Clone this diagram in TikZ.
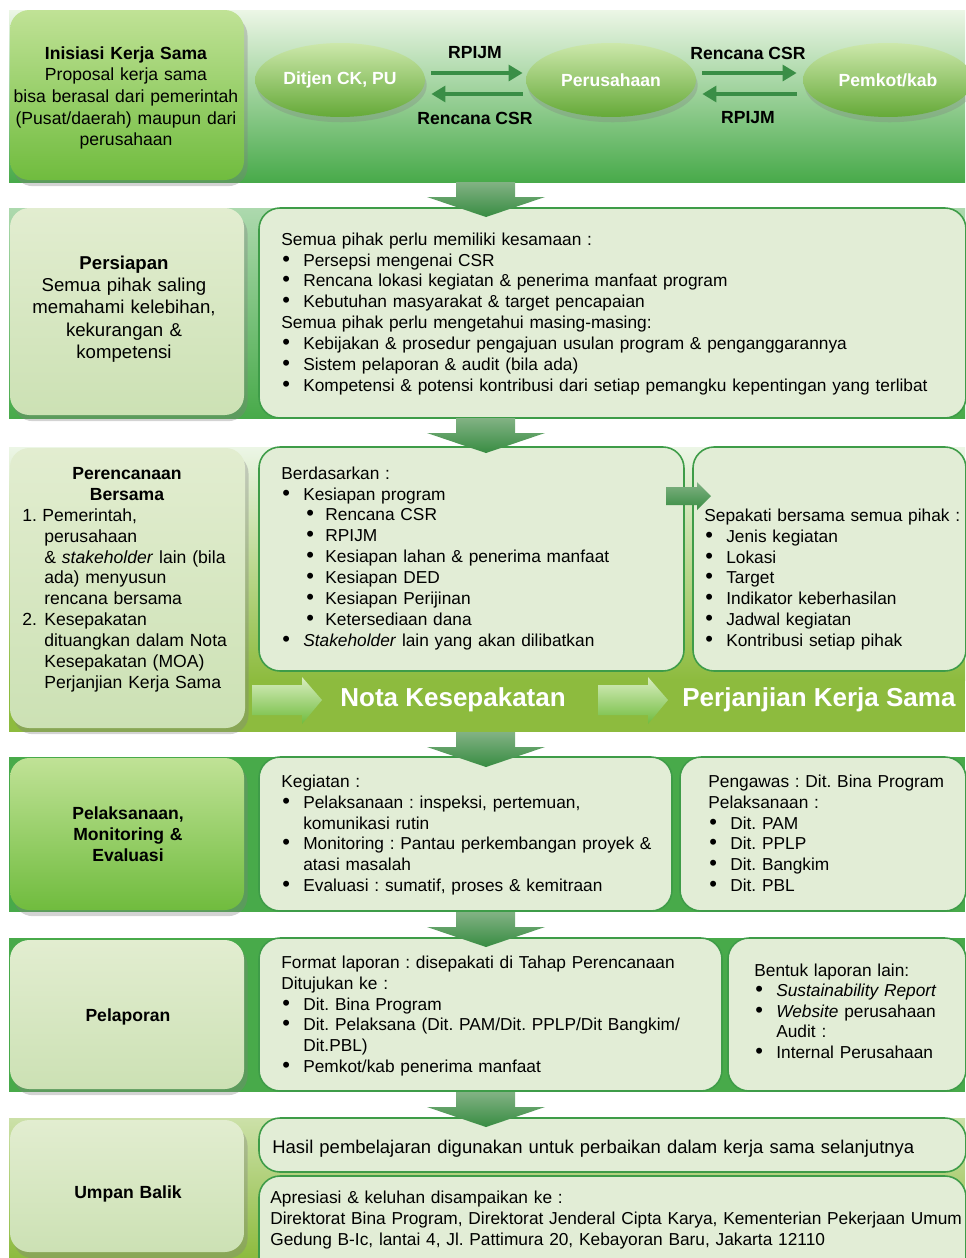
\documentclass[tikz,border=0pt]{standalone}
\usepackage{fontspec}
\setmainfont{Liberation Sans}
\usetikzlibrary{positioning,arrows.meta,shapes.geometric,shadows}
\frenchspacing

\definecolor{bandtop}{RGB}{236,246,230}
\definecolor{bandgreen}{RGB}{72,170,74}
\definecolor{bandolive}{RGB}{141,187,62}
\definecolor{boxfill}{RGB}{226,237,214}
\definecolor{boxline}{RGB}{62,156,72}
\definecolor{sidetop}{RGB}{226,237,208}
\definecolor{sidebot}{RGB}{204,225,180}
\definecolor{brighttop}{RGB}{192,226,150}
\definecolor{brightbot}{RGB}{112,188,62}
\definecolor{pushlight}{RGB}{130,178,132}
\definecolor{pushdark}{RGB}{56,140,66}
\definecolor{flowgreen}{RGB}{58,142,70}

\newcommand{\dotmark}{{\fontsize{12.5}{12}\selectfont\textbullet}}
\newcommand{\itm}{\makebox[12.5pt][l]{\hspace{0.6pt}\dotmark}}
\newcommand{\itmsub}{\hspace*{13.7pt}\makebox[11.4pt][l]{\hspace{0.6pt}\dotmark}}
\newcommand{\itmcont}{\hspace*{12.5pt}}

\tikzset{
  sidebox/.style={rounded corners=11pt, top color=sidetop, bottom color=sidebot,
    drop shadow={shadow xshift=2pt, shadow yshift=-3.5pt, opacity=0.35}},
  brightbox/.style={sidebox, top color=brighttop, bottom color=brightbot},
  infobox/.style={rounded corners=12pt, fill=boxfill, draw=boxline, line width=0.9pt},
  sidetext/.style={anchor=base, inner sep=0pt, align=center, text width=4.5cm},
  body/.style={anchor=base west, inner sep=0pt, align=left},
  bubble/.style={ellipse, minimum width=3.4cm, minimum height=1.48cm, inner sep=0pt,
    top color=brighttop!80!white, bottom color=brightbot!90!black, text=white,
    font=\bfseries, drop shadow={shadow xshift=1pt, shadow yshift=-3pt, opacity=0.3}},
  flow/.style={-{Triangle[length=8pt,width=9pt]}, line width=2.3pt, draw=flowgreen},
  lbl/.style={inner sep=0pt, font=\bfseries},
  banner/.style={anchor=west, inner sep=0pt, text=white,
    font=\fontsize{14.8}{18}\selectfont\bfseries},
}

\begin{document}
\begin{tikzpicture}[x=0.02cm, y=-0.02cm, font=\fontsize{9.85}{11.95}\selectfont]
  \useasboundingbox (0,0) rectangle (965,1258);

  % Inisiasi
  \shade[top color=bandtop, bottom color=bandgreen] (9,10) rectangle (965,182);
  \path[brightbox] (10,10) rectangle (244,180);
  \node[sidetext, font=\fontsize{10}{12.35}\selectfont] (ini) at (126,59)
    {\textbf{Inisiasi Kerja Sama}\\Proposal kerja sama\\bisa berasal dari pemerintah\\(Pusat/daerah) maupun dari\\perusahaan};
  \node[bubble] (ditjen) at (340,80) {Ditjen CK, PU};
  \node[bubble] (perus) at (611,80) {Perusahaan};
  \node[bubble] (pemkot) at (888,80) {Pemkot/kab};
  \draw[flow] ([xshift=0.12cm,yshift=0.14cm]ditjen.east) -- ([xshift=-0.06cm,yshift=0.14cm]perus.west);
  \draw[flow] ([xshift=-0.06cm,yshift=-0.28cm]perus.west) -- ([xshift=0.12cm,yshift=-0.28cm]ditjen.east);
  \draw[flow] ([xshift=0.12cm,yshift=0.14cm]perus.east) -- ([xshift=-0.12cm,yshift=0.14cm]pemkot.west);
  \draw[flow] ([xshift=-0.12cm,yshift=-0.28cm]pemkot.west) -- ([xshift=0.12cm,yshift=-0.28cm]perus.east);
  \node[lbl] (up1) at (475,53) {RPIJM};
  \node[lbl] (dn1) at (475,118) {Rencana CSR};
  \node[lbl] (up2) at (748,53) {Rencana CSR};
  \node[lbl] (dn2) at (748,118) {RPIJM};

  % Persiapan
  \shade[top color=bandgreen!45!white, bottom color=bandgreen] (9,208) rectangle (965,418);
  \path[sidebox] (10,208) rectangle (244,415);
  \node[sidetext, font=\fontsize{10.6}{12.8}\selectfont] (per) at (124,269)
    {\textbf{Persiapan}\\Semua pihak saling\\memahami kelebihan,\\kekurangan \&\\kompetensi};
  \draw[infobox] (259,208) rectangle (966,418);
  \node[body, text width=13.6cm] (perisi) at (281,245)
    {Semua pihak perlu memiliki kesamaan :\\
     \itm Persepsi mengenai CSR\\
     \itm Rencana lokasi kegiatan \& penerima manfaat program\\
     \itm Kebutuhan masyarakat \& target pencapaian\\
     Semua pihak perlu mengetahui masing-masing:\\
     \itm Kebijakan \& prosedur pengajuan usulan program \& penganggarannya\\
     \itm Sistem pelaporan \& audit (bila ada)\\
     \itm Kompetensi \& potensi kontribusi dari setiap pemangku kepentingan yang terlibat};

  % Perencanaan Bersama
  \shade[top color=bandtop, bottom color=bandolive] (9,447) rectangle (965,680);
  \fill[bandolive] (9,680) rectangle (965,732);
  \path[sidebox] (10,448) rectangle (245,728);
  \node[sidetext, font=\fontsize{10}{11.95}\selectfont] (ren) at (127,479) {\textbf{Perencanaan}\\\textbf{Bersama}};
  \node[body, text width=4.4cm, font=\fontsize{10}{11.95}\selectfont] (renisi) at (22,521)
    {\makebox[11.4pt][l]{1.}Pemerintah,\\
     \itmcont perusahaan\\
     \itmcont \& \textit{stakeholder} lain (bila\\
     \itmcont ada) menyusun\\
     \itmcont rencana bersama\\
     \makebox[12.5pt][l]{2.}Kesepakatan\\
     \itmcont dituangkan dalam Nota\\
     \itmcont Kesepakatan (MOA)\\
     \itmcont Perjanjian Kerja Sama};
  \draw[infobox] (259,447) rectangle (684,671);
  \draw[infobox] (693,447) rectangle (966,671);
  \node[body, text width=8cm] (berd) at (281,479)
    {Berdasarkan :\\
     \itm Kesiapan program\\
     \itmsub Rencana CSR\\
     \itmsub RPIJM\\
     \itmsub Kesiapan lahan \& penerima manfaat\\
     \itmsub Kesiapan DED\\
     \itmsub Kesiapan Perijinan\\
     \itmsub Ketersediaan dana\\
     \itm \textit{Stakeholder} lain yang akan dilibatkan};
  \node[body, text width=5.5cm] (sepakat) at (704,521)
    {Sepakati bersama semua pihak :\\
     \itm Jenis kegiatan\\
     \itm Lokasi\\
     \itm Target\\
     \itm Indikator keberhasilan\\
     \itm Jadwal kegiatan\\
     \itm Kontribusi setiap pihak};
  \shade[top color=pushlight, bottom color=pushdark]
    (666,487) -- (697,487) -- (697,482) -- (711,496) -- (697,510) -- (697,505) -- (666,505) -- cycle;
  \foreach \xx in {252,598}
    \shade[top color=brighttop!60!white, bottom color=brightbot]
      (\xx,685) -- (\xx+50,685) -- (\xx+50,677) -- (\xx+70,700) -- (\xx+50,724) -- (\xx+50,715) -- (\xx,715) -- cycle;
  \node[banner] (nota) at (340,700) {Nota Kesepakatan};
  \node[banner] (pks) at (682,700) {Perjanjian Kerja Sama};

  % Pelaksanaan
  \fill[bandgreen] (9,757) rectangle (965,912);
  \path[brightbox] (10,758) rectangle (244,910);
  \node[sidetext, font=\fontsize{10}{11.95}\selectfont] (pel) at (128,819) {\textbf{Pelaksanaan,}\\\textbf{Monitoring \&}\\\textbf{Evaluasi}};
  \draw[infobox] (259,757) rectangle (672,911);
  \draw[infobox] (680,757) rectangle (966,911);
  \node[body, text width=7.8cm] (keg) at (281,787)
    {Kegiatan :\\
     \itm Pelaksanaan : inspeksi, pertemuan,\\
     \itmcont komunikasi rutin\\
     \itm Monitoring : Pantau perkembangan proyek \&\\
     \itmcont atasi masalah\\
     \itm Evaluasi : sumatif, proses \& kemitraan};
  \node[body, text width=5.4cm] (awas) at (708,787)
    {Pengawas : Dit. Bina Program\\
     Pelaksanaan :\\
     \itm Dit. PAM\\
     \itm Dit. PPLP\\
     \itm Dit. Bangkim\\
     \itm Dit. PBL};

  % Pelaporan
  \fill[bandgreen] (9,938) rectangle (965,1092);
  \path[sidebox] (10,940) rectangle (244,1089);
  \node[sidetext, font=\fontsize{10}{11.95}\selectfont] (lap) at (128,1021) {\textbf{Pelaporan}};
  \draw[infobox] (259,938) rectangle (722,1091);
  \draw[infobox] (728,938) rectangle (966,1091);
  \node[body, text width=8.8cm] (format) at (281,968)
    {Format laporan : disepakati di Tahap Perencanaan\\
     Ditujukan ke :\\
     \itm Dit. Bina Program\\
     \itm Dit. Pelaksana (Dit. PAM/Dit. PPLP/Dit Bangkim/\\
     \itmcont Dit.PBL)\\
     \itm Pemkot/kab penerima manfaat};
  \node[body, text width=4.2cm, font=\fontsize{9.85}{11.7}\selectfont] (bentuk) at (754,976)
    {Bentuk laporan lain:\\
     \itm \textit{Sustainability Report}\\
     \itm \textit{Website} perusahaan\\
     \itmcont Audit :\\
     \itm Internal Perusahaan};

  % Umpan Balik
  \shade[top color=bandolive!45!white, bottom color=bandolive] (9,1118) rectangle (965,1258);
  \path[sidebox] (10,1120) rectangle (244,1252);
  \node[sidetext, font=\fontsize{10}{11.95}\selectfont] (umpan) at (128,1198) {\textbf{Umpan Balik}};
  \draw[infobox] (259,1118) rectangle (966,1172);
  \draw[infobox] (259,1176) rectangle (966,1290);
  \node[body, text width=15cm, font=\fontsize{10.5}{12}\selectfont] (hasil) at (272,1153)
    {Hasil pembelajaran digunakan untuk perbaikan dalam kerja sama selanjutnya};
  \node[body, text width=15cm] (apres) at (270,1203)
    {Apresiasi \& keluhan disampaikan ke :\\
     Direktorat Bina Program, Direktorat Jenderal Cipta Karya, Kementerian Pekerjaan Umum\\
     Gedung B-Ic, lantai 4, Jl. Pattimura 20, Kebayoran Baru, Jakarta 12110};

  % arrows between stages
  \foreach \yy in {182,418,732,912,1092}
    \shade[top color=pushlight, bottom color=pushdark]
      (456,\yy) -- (515,\yy) -- (515,\yy+15) -- (545,\yy+15) -- (486,\yy+35) -- (427,\yy+15) -- (456,\yy+15) -- cycle;
\end{tikzpicture}
\end{document}
